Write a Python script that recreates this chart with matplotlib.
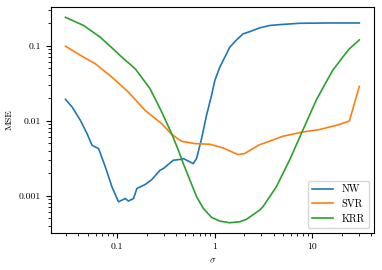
import matplotlib
matplotlib.use("Agg")
import matplotlib.pyplot as plt
from matplotlib.ticker import FuncFormatter, NullFormatter

plt.rcParams["font.family"] = "serif"
plt.rcParams["font.serif"] = ["cmr10", "DejaVu Serif"]
plt.rcParams["mathtext.fontset"] = "cm"
plt.rcParams["axes.formatter.use_mathtext"] = True
plt.rcParams["font.size"] = 7

# --- data (sigma, MSE) ---
nw_sigma = [0.0295, 0.0345, 0.0419, 0.0491, 0.0552, 0.0644, 0.0755, 0.0883,
            0.103, 0.121, 0.130, 0.147, 0.159, 0.193, 0.226, 0.275, 0.297,
            0.375, 0.457, 0.475, 0.556, 0.601, 0.650, 0.731, 0.822, 0.925,
            1.0, 1.124, 1.29, 1.42, 1.64, 1.94, 2.27, 2.88, 3.64, 4.6, 7.36,
            14.9, 30.2]
nw_mse = [0.0192, 0.0152, 0.0101, 0.0067, 0.0047, 0.00425, 0.00242, 0.00131,
          0.00083, 0.00092, 0.00085, 0.00092, 0.00125, 0.00141, 0.00164,
          0.00219, 0.0023, 0.00297, 0.00306, 0.00313, 0.00282, 0.00268,
          0.00313, 0.00577, 0.0118, 0.0217, 0.0343, 0.0515, 0.0736, 0.095,
          0.116, 0.143, 0.153, 0.172, 0.185, 0.19, 0.198, 0.2, 0.2]

svr_sigma = [0.0295, 0.0453, 0.0597, 0.0883, 0.130, 0.193, 0.286, 0.361,
             0.457, 0.625, 0.889, 1.22, 1.73, 2.02, 2.88, 3.11, 4.98, 7.96,
             11.8, 18.9, 23.9, 30.2]
svr_mse = [0.098, 0.070, 0.0571, 0.0379, 0.024, 0.0137, 0.0091, 0.00658,
           0.0053, 0.00495, 0.00485, 0.00432, 0.00353, 0.00365, 0.0048,
           0.00495, 0.0062, 0.00706, 0.0076, 0.0089, 0.0099, 0.0286]

krr_sigma = [0.0295, 0.0453, 0.0671, 0.0993, 0.107, 0.153, 0.217, 0.286,
             0.361, 0.423, 0.475, 0.556, 0.650, 0.761, 0.925, 1.124, 1.42,
             1.80, 2.10, 2.88, 3.11, 4.26, 5.82, 7.96, 10.9, 13.8, 16.1, 20.4,
             23.9, 30.2]
krr_mse = [0.238, 0.185, 0.129, 0.081, 0.0736, 0.049, 0.0266, 0.013,
           0.0067, 0.00404, 0.00268, 0.00161, 0.00097, 0.00068, 0.000515,
           0.00046, 0.000437, 0.00045, 0.000484, 0.000644, 0.000713, 0.00131,
           0.00297, 0.00743, 0.0186, 0.0326, 0.0466, 0.070, 0.0904, 0.119]

labels = ["NW", "SVR", "KRR"]

fig = plt.figure(figsize=(3.82, 2.70), dpi=100)
ax = fig.add_axes([0.133, 0.137, 0.846, 0.837])

for xs, ys, lab in [(nw_sigma, nw_mse, labels[0]),
                    (svr_sigma, svr_mse, labels[1]),
                    (krr_sigma, krr_mse, labels[2])]:
    ax.plot(xs, ys, label=lab, lw=1.2)

ax.set_xscale("log")
ax.set_yscale("log")
fmt = FuncFormatter(lambda v, p: "%g" % v)
ax.xaxis.set_major_formatter(fmt)
ax.yaxis.set_major_formatter(fmt)
ax.xaxis.set_minor_formatter(NullFormatter())
ax.yaxis.set_minor_formatter(NullFormatter())

ax.set_xlabel(r"$\sigma$")
ax.set_ylabel("MSE")
ax.legend(loc="lower right", fontsize=7.5)

fig.savefig("out.png", dpi=100)
